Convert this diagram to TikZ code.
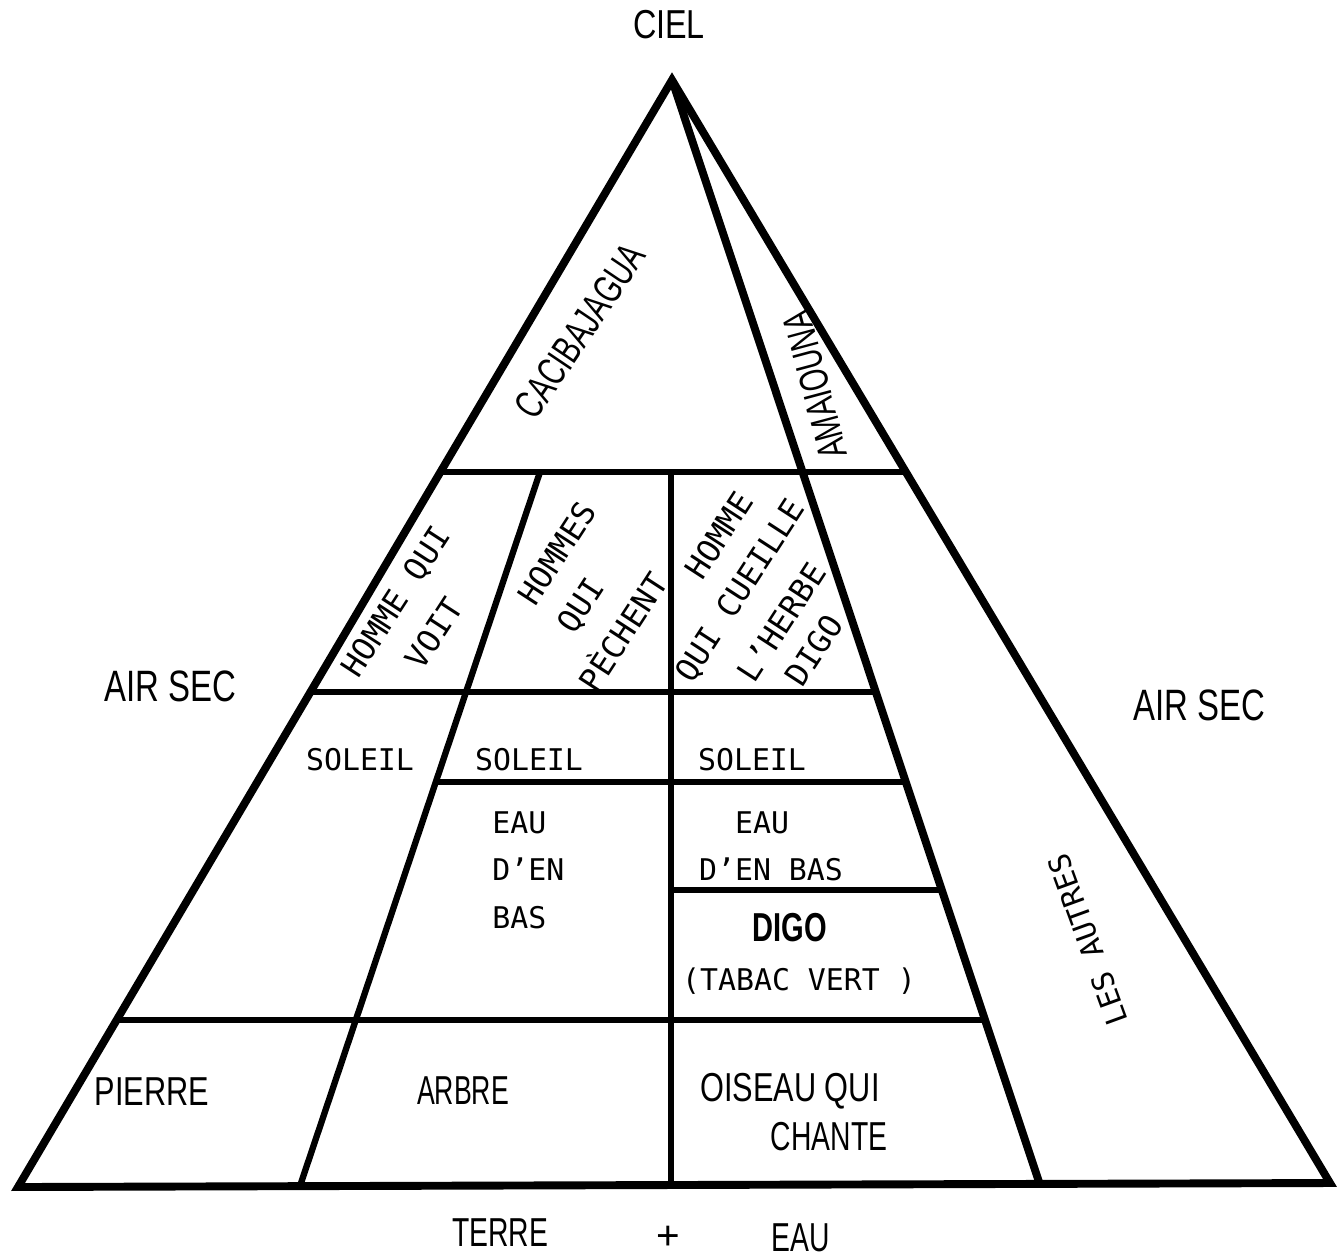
\documentclass[tikz,border=0pt]{standalone}
\usepackage{fontspec}
\setmainfont{Liberation Sans}
\newfontfamily\typewritten{DejaVu Sans Mono}
\usetikzlibrary{positioning}
\newcommand{\squeezed}[2][0.7]{\scalebox{#1}[1]{#2}}

\begin{document}
\begin{tikzpicture}[x=0.02cm,y=-0.02cm,
    wall/.style={line width=4.5pt,line join=miter},
    part/.style={line width=3.6pt},
    tall/.style={font=\fontsize{23}{27}\selectfont,inner sep=0pt},
    typed/.style={font=\typewritten\fontsize{17}{27}\selectfont,inner sep=0pt},
    slant/.style={font=\typewritten\fontsize{18}{27}\selectfont,inner sep=0pt,rotate=57}]
  \fill[white] (0,0) rectangle (1337,1258);
  \useasboundingbox (0,0) rectangle (1337,1258);
  % outline of the pyramid
  \coordinate (apex) at (672,80);
  \coordinate (bl) at (18,1187);
  \coordinate (br) at (1330,1183);
  \coordinate (ib) at (1040,1185);
  \draw[wall] (apex) -- (bl) -- (br) -- cycle;
  \draw[wall] (apex) -- (ib);
  % floors
  \draw[part] (440,472) -- (906,472);
  \draw[part] (310,692) -- (876,692);
  \draw[part] (436,782) -- (906,782);
  \draw[part] (671,890) -- (942,890);
  \draw[part] (117,1020) -- (985,1020);
  % columns
  \draw[part] (540,472) -- (300,1186);
  \draw[part] (671,472) -- (671,1185);
  % sky and sides
  \node[tall] (ciel) at (669,25) {\squeezed[0.8]{CIEL}};
  \node[tall,font=\fontsize{25}{27}\selectfont] (airL) at (170,686) {\squeezed[0.75]{AIR SEC}};
  \node[tall,font=\fontsize{25}{27}\selectfont] (airR) at (1199,705) {\squeezed[0.75]{AIR SEC}};
  \node[tall,rotate=56] (caci) at (580,331) {\squeezed{CACIBAJAGUA}};
  \node[tall,rotate=105] (amai) at (815,385) {\squeezed{AMAIOUNA}};
  % the three men
  \node[slant] (voit1) at (397,602) {HOMME QUI};
  \node[slant] (voit2) at (434,633) {VOIT};
  \node[slant] (peche1) at (557,553) {HOMMES};
  \node[slant] (peche2) at (582,606) {QUI};
  \node[slant] (peche3) at (621,631) {PÈCHENT};
  \node[slant] (herbe1) at (719,535) {HOMME};
  \node[slant] (herbe2) at (741,591) {QUI CUEILLE};
  \node[slant] (herbe3) at (781,622) {L’HERBE};
  \node[slant] (herbe4) at (814,650) {DIGO};
  % middle rows
  \node[typed] (sol1) at (360,760) {SOLEIL};
  \node[typed] (sol2) at (529,760) {SOLEIL};
  \node[typed] (sol3) at (752,760) {SOLEIL};
  \node[typed,anchor=west,align=left] (eau1) at (492,870) {EAU\\D’EN\\BAS};
  \node[typed] (eau2) at (762,823) {EAU};
  \node[typed] (eau3) at (771,869) {D’EN BAS};
  \node[tall,font=\bfseries\fontsize{23}{27}\selectfont] (digo) at (790,928) {\squeezed[0.72]{DIGO}};
  \node[typed] (tabac) at (799,981) {(TABAC VERT )};
  \node[typed,rotate=110] (autres) at (1088,940) {LES AUTRES};
  % ground row
  \node[tall] (pierre) at (152,1092) {\squeezed[0.76]{PIERRE}};
  \node[tall] (arbre) at (463,1091) {\squeezed[0.66]{ARBRE}};
  \node[tall] (oiseau1) at (790,1091) {\squeezed[0.76]{OISEAU QUI}};
  \node[tall] (oiseau2) at (829,1137) {\squeezed{CHANTE}};
  % below the base
  \node[tall] (terre) at (500,1233) {\squeezed{TERRE}};
  \node[tall] (plus) at (668,1238) {+};
  \node[tall] (eau) at (801,1238) {\squeezed{EAU}};
\end{tikzpicture}
\end{document}
